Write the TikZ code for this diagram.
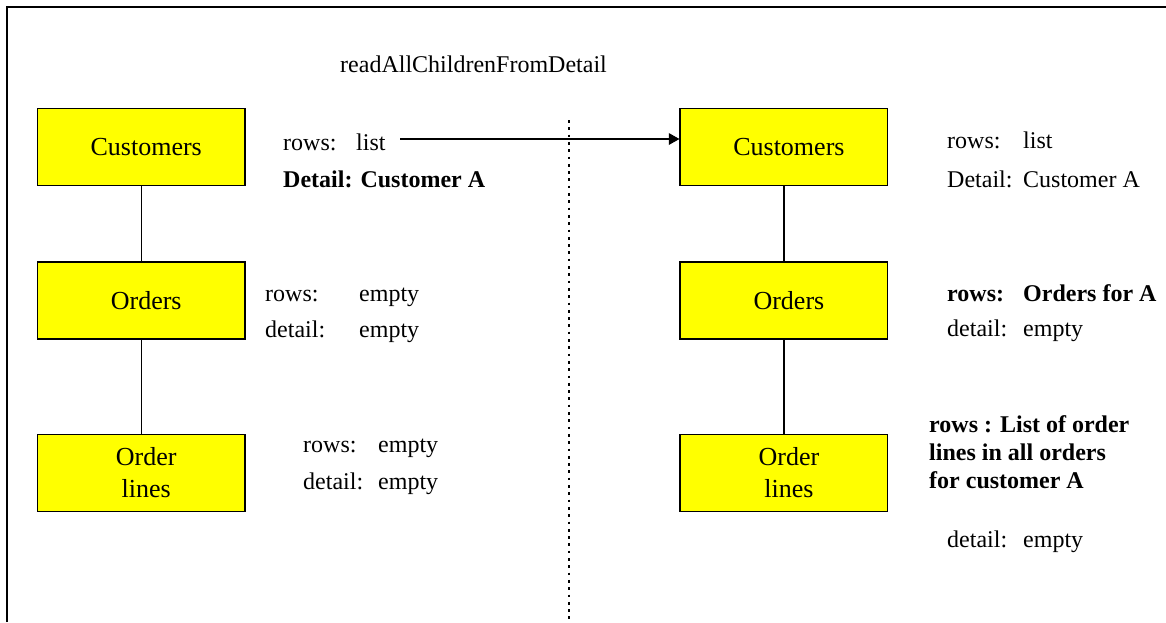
\documentclass[tikz,border=0pt]{standalone}
\usepackage{fontspec}
\setmainfont{Liberation Serif}
\usetikzlibrary{arrows.meta}
\definecolor{boxyellow}{RGB}{255,255,0}
\tikzset{
  entity/.style={draw=black, line width=1.4pt, fill=boxyellow,
    minimum width=207.5pt, minimum height=77pt, inner sep=0pt,
    align=center, font=\fontsize{26}{32}\selectfont},
  info/.style={anchor=base west, inner sep=0pt, font=\fontsize{24}{28}\selectfont},
  infobold/.style={info, font=\fontsize{24}{28}\selectfont\bfseries},
  link/.style={draw=black, line width=1.3pt},
  flow/.style={draw=black, line width=1.3pt, -{Triangle[length=10.7pt,width=11.7pt]}},
  divider/.style={draw=black, line width=2.2pt, dash pattern=on 2.7pt off 4.6pt},
  frame/.style={draw=black, line width=1.8pt},
}
\begin{document}
\begin{tikzpicture}[x=1pt,y=-1pt]
\useasboundingbox (0,0) rectangle (1166,622);

% outer frame (only its top and left edges fall inside the page)
\draw[frame] (7,622) -- (7,7.3) -- (1166,7.3);

% title
\node[info] (title) at (340,72.7) {readAllChildrenFromDetail};

% state before the call
\node[entity] (lc) at (141.2,147)   {\hspace*{10pt}Customers};
\node[entity] (lo) at (141.2,300.5) {\hspace*{10pt}Orders};
\node[entity] (ll) at (141.2,473)   {\hspace*{10pt}Order\\\hspace*{10pt}lines};
\draw[link] (lc) -- (lo);
\draw[link] (lo) -- (ll);

\node[info] (lc1) at (283,150) {\makebox[73pt][l]{rows:}list};
\node[infobold] (lc2) at (283,187) {Detail: Customer A};
\node[info] (lo1) at (265,301) {\makebox[94pt][l]{rows:}empty};
\node[info] (lo2) at (265,337) {\makebox[94pt][l]{detail:}empty};
\node[info] (ll1) at (303,452) {\makebox[75pt][l]{rows:}empty};
\node[info] (ll2) at (303,489) {\makebox[75pt][l]{detail:}empty};

% separator between the two states
\coordinate (divtop) at (569,120);
\coordinate (divbot) at (569,622);
\draw[divider] (divtop) -- (divbot);

% state after the call
\node[entity] (rc) at (783.9,147)   {\hspace*{10pt}Customers};
\node[entity] (ro) at (783.9,300.5) {\hspace*{10pt}Orders};
\node[entity] (rl) at (783.9,473)   {\hspace*{10pt}Order\\\hspace*{10pt}lines};
\draw[link] (rc) -- (ro);
\draw[link] (ro) -- (rl);

\node[info] (rc1) at (947,148) {\makebox[76pt][l]{rows:}list};
\node[info] (rc2) at (947,187) {\makebox[76pt][l]{Detail:}Customer A};
\node[infobold] (ro1) at (947,301) {\makebox[76pt][l]{rows:}Orders for A};
\node[info] (ro2) at (947,336) {\makebox[76pt][l]{detail:}empty};
\node[infobold] (rl1) at (929,432) {rows : List of order};
\node[infobold] (rl2) at (929,460) {lines in all orders};
\node[infobold] (rl3) at (929,488) {for customer A};
\node[info] (rl4) at (947,547) {\makebox[76pt][l]{detail:}empty};

% the call moves the customer list across
\coordinate (flowstart) at (400,139);
\draw[flow] (flowstart) -- (rc.west |- flowstart);
\end{tikzpicture}
\end{document}
